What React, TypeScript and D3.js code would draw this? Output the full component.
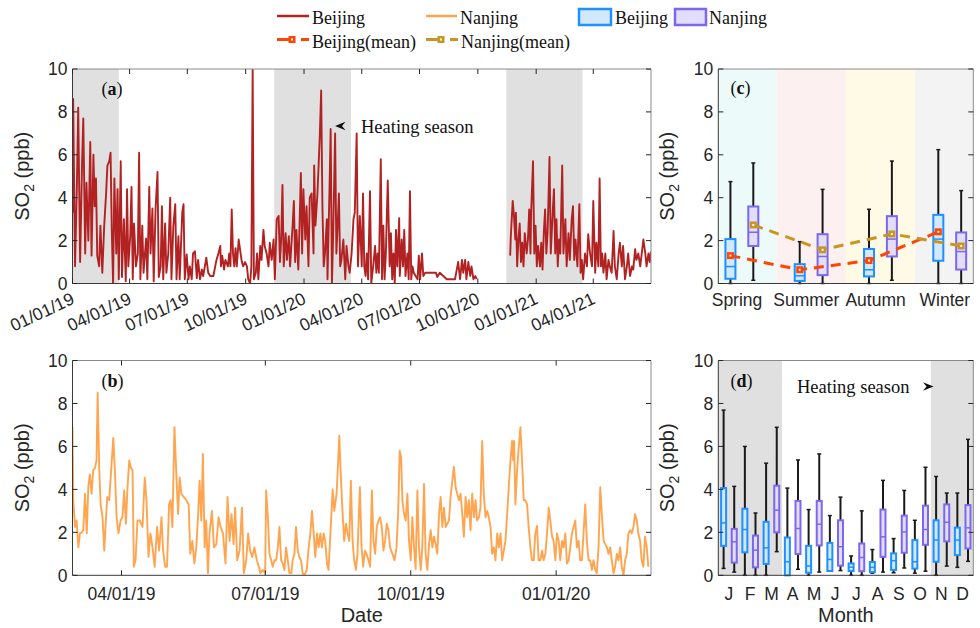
import React from 'react'
import * as d3 from 'd3'

/* figure size and panel frames (pixels) */
const width = 980
const height = 628
const panelA = { x0: 72.5, x1: 651, y0: 69, y1: 283.5 }
const panelB = { x0: 72.5, x1: 651, y0: 360.5, y1: 575.3 }
const panelC = { x0: 718.3, x1: 973.3, y0: 69, y1: 283.5 }
const panelD = { x0: 718.3, x1: 973.3, y0: 360.5, y1: 575.3 }

const sans = '"Liberation Sans", Arial, Helvetica, sans-serif'
const serif = '"Liberation Serif", "Times New Roman", serif'
const axisColor = '#262626'

const bjColor = '#b22222'
const njColor = '#ffa54f'
const bjBoxStroke = '#1e90ff'
const bjBoxFill = '#d2e8fc'
const njBoxStroke = '#7b68ee'
const njBoxFill = '#e2ddf9'
const bjMeanColor = '#ff4500'
const njMeanColor = '#c8961e'
const shade = '#e0e0e0'

/* ---------------- data ---------------- */
const yTicks = [0, 2, 4, 6, 8, 10]

/* heating seasons (Nov 15 - Mar 15) */
const heatingSeasons: [string, string][] = [
    ['2018-11-15', '2019-03-15'],
    ['2019-11-15', '2020-03-15'],
    ['2020-11-15', '2021-03-15'],
]

/* Beijing daily SO2, [days since 2019-01-01, ppb]; null = missing */
const beijingSO2: [number, number | null][] = [
    [0, 3.3], [1, 8.6], [4, 0.8], [7, 4.7], [9, 8.2], [12, 1.0], [15, 5.5], [17, 7.7], [20, 1.4], [22, 4.7],
    [25, 2.0], [28, 6.6], [30, 1.3], [33, 6.0], [35, 3.6], [37, 4.9], [39, 1.3], [42, 0.8], [44, 2.7], [47, 0.5],
    [50, 2.7], [53, 4.2], [55, 5.5], [58, 5.7], [60, 6.1], [62, 2.4], [64, 0.0], [66, 4.9], [69, 1.4], [71, 4.4],
    [73, 0.2], [76, 5.7], [78, 0.3], [81, 3.0], [84, 0.1], [86, 4.4], [88, 0.8], [91, 2.2], [93, 4.5], [95, 0.2],
    [97, 2.8], [100, 0.8], [103, 1.4], [105, 6.1], [107, 0.2], [110, 2.7], [112, 0.5], [116, 2.1], [118, 0.2], [121, 4.5],
    [123, 1.4], [126, 3.5], [128, 0.1], [131, 3.5], [134, 5.2], [136, 0.3], [139, 0.8], [141, 3.6], [143, 0.2], [146, 2.8],
    [148, 0.5], [151, 1.4], [154, 4.0], [156, 0.2], [159, 2.7], [162, 3.7], [164, 0.2], [167, 2.2], [169, 0.2], [173, 3.3],
    [175, 3.7], [177, 0.2], [180, 1.35], [183, 0.2], [185, 0.8], [188, 0.2], [190, 1.4], [193, 1.5], [196, 0.25], [198, 1.1],
    [201, 0.2], [204, 0.65], [206, 0.35], [211, 1.2], [214, 0.5], [217, 0.35], [222, 0.35], [225, 0.8], [227, 1.1], [230, 1.4],
    [233, 1.75], [234, 0.8], [236, 1.3], [239, 0.65], [241, 1.1], [245, 0.8], [247, 1.4], [249, 0.8], [251, 3.45], [253, 1.4],
    [255, 0.8], [257, 1.65], [259, 0.8], [262, 2.05], [265, 1.4], [267, 1.0], [269, 0.8], [272, 1.0], [275, 0.8], [277, 0.2],
    [280, 0.0], [282, 0.8], [284, 10], [286, 0.2], [289, 0.5], [291, 1.4], [293, 0.2], [296, 1.75], [298, 1.1], [301, 2.5],
    [303, 1.75], [306, 1.4], [309, 0.8], [311, 1.9], [314, 1.1], [317, 2.05], [319, 0.2], [322, 3.0], [325, 3.15], [327, 1.0],
    [329, 2.05], [331, 4.6], [333, 0.8], [336, 2.35], [338, 1.1], [341, 2.2], [343, 0.8], [347, 2.7], [349, 3.85], [351, 1.0],
    [353, 2.5], [356, 0.65], [358, 2.8], [360, 5.15], [362, 1.4], [364, 4.4], [367, 2.05], [369, 3.6], [372, 0.8], [374, 4.0],
    [377, 4.2], [380, 1.4], [381, 5.5], [383, 2.7], [386, 4.1], [388, 5.5], [390, 7.0], [392, 9.0], [394, 3.6], [396, 0.8],
    [398, 1.4], [401, 3.0], [402, 0.2], [405, 4.2], [407, 7.2], [409, 0.0], [411, 2.35], [414, 7.0], [416, 1.4], [418, 2.7],
    [420, 4.2], [422, 0.8], [424, 1.1], [427, 2.05], [430, 0.2], [432, 1.75], [435, 0.8], [437, 0.5], [440, 1.4], [443, 3.0],
    [445, 3.3], [448, 7.0], [450, 0.8], [453, 3.15], [456, 0.8], [458, 4.2], [460, 0.8], [462, 0.35], [464, 1.4], [466, 0.2],
    [469, 4.3], [471, 0.0], [474, 0.8], [477, 1.75], [479, 0.5], [481, 1.4], [483, 0.5], [486, 5.8], [488, 0.2], [490, 2.7],
    [492, 0.2], [494, 1.4], [497, 4.8], [500, 0.8], [502, 2.35], [504, 0.2], [506, 1.4], [508, 0.0], [510, 2.5], [512, 0.8],
    [515, 3.05], [516, 0.35], [519, 2.05], [521, 0.8], [523, 2.5], [525, 0.35], [528, 1.4], [530, 0.2], [532, 4.3], [534, 0.2],
    [536, 0.8], [538, 0.5], [541, 0.35], [544, 0.2], [546, 1.3], [548, 0.2], [551, 1.4], [553, 0.35], [556, 0.5], [573, 0.5],
    [575, 0.3], [579, 0.5], [590, 0.2], [603, 0.2], [608, 1.0], [611, 0.2], [614, 1.1], [616, 0.5], [619, 1.1], [621, 0.2],
    [624, 1.0], [627, 0.35], [629, 0.8], [632, 0.2], [635, 0.35], [637, 0.2], [660, null],
    [690, 1.3], [691, 2.2], [694, 3.85], [696, 3.15], [698, 2.05], [699, 3.3], [701, 0.8], [703, 2.05], [705, 2.8], [707, 1.0],
    [709, 1.9], [711, 0.8], [713, 2.35], [716, 1.4], [718, 2.05], [720, 3.45], [722, 1.4], [723, 3.3], [726, 5.7], [728, 1.4],
    [730, 2.7], [732, 0.8], [734, 1.75], [737, 0.8], [739, 1.9], [741, 0.65], [743, 2.35], [745, 3.45], [747, 1.4], [749, 2.35],
    [752, 5.9], [754, 1.4], [757, 3.3], [759, 4.4], [761, 1.4], [763, 3.0], [765, 0.8], [767, 2.05], [769, 1.4], [772, 5.5],
    [774, 1.4], [777, 3.0], [779, 0.8], [782, 2.35], [784, 1.1], [787, 3.0], [789, 3.6], [791, 1.1], [793, 2.05], [796, 0.8],
    [799, 3.7], [801, 0.5], [803, 1.1], [805, 0.2], [808, 1.4], [811, 0.8], [813, 2.3], [816, 1.4], [819, 0.8], [821, 3.85],
    [824, 0.5], [826, 1.9], [829, 0.8], [831, 4.9], [833, 0.8], [835, 1.4], [837, 0.5], [840, 1.4], [842, 0.2], [845, 1.1],
    [847, 0.8], [850, 0.5], [853, 2.45], [855, 0.8], [858, 0.2], [861, 1.4], [863, 1.9], [866, 0.8], [868, 1.75], [871, 0.2],
    [874, 0.8], [876, 1.4], [879, 0.35], [882, 0.8], [884, 0.65], [887, 1.6], [889, 1.1], [892, 1.4], [895, 0.8], [897, 1.3],
    [900, 2.05], [903, 1.4], [905, 0.8], [908, 1.4], [910, 1.0], [912, 1.5],
]

/* Nanjing daily SO2, [days since 2019-03-01, ppb] */
const nanjingSO2: [number, number][] = [
    [0, 6.9], [0.5, 3.5], [1.6, 2.25], [2.6, 2.55], [3.7, 1.3], [4.7, 1.95], [5.8, 2.0], [6.8, 2.1], [7.9, 3.8], [9, 1.95],
    [10, 4.1], [11, 4.7], [12.1, 3.8], [13.1, 4.9], [14.2, 5.0], [15.2, 5.35], [15.9, 8.5], [16.9, 5.0], [17.8, 3.3], [19, 2.7],
    [20.1, 1.15], [21.1, 2.55], [22, 3.65], [23.2, 3.5], [24.3, 4.7], [25.8, 6.4], [26.8, 4.9], [27.9, 2.7], [29.1, 1.95], [30.4, 2.55],
    [31.6, 2.7], [32.7, 3.95], [33.8, 2.4], [34.8, 4.1], [35.9, 5.35], [36.9, 5.0], [38, 4.9], [38.8, 0.4], [39.9, 0.7], [41.1, 2.55],
    [42.6, 2.55], [44.3, 2.25], [45.7, 4.55], [46.8, 3.5], [48.1, 0.85], [49.3, 1.95], [50.6, 1.3], [52, 0.4], [53.5, 2.25], [54.8, 1.15],
    [56.3, 2.7], [57.3, 1.15], [58.6, 0.4], [59.8, 0.4], [61.1, 3.3], [62.1, 3.5], [63.2, 2.25], [64.5, 6.9], [65.7, 4.7], [66.8, 2.85],
    [67.8, 4.55], [68.9, 3.8], [70.3, 3.65], [72, 3.5], [73.5, 3.3], [74.5, 1.0], [75.8, 1.6], [77.1, 0.55], [78.3, 1.3], [79.4, 2.7],
    [80.4, 4.4], [81.5, 2.55], [82.5, 5.65], [83.6, 1.3], [84.6, 2.55], [85.7, 0.1], [86.7, 1.95], [88.2, 3.0], [89.5, 1.3], [91, 1.45],
    [92.4, 2.7], [93.7, 2.25], [95.2, 1.95], [96.8, 0.55], [98.1, 3.65], [99.4, 1.6], [100.6, 2.85], [101.9, 1.45], [102.9, 3.15], [104.2, 0.7],
    [105.7, 1.15], [107.2, 3.15], [108.4, 0.1], [109.9, 0.7], [111.1, 1.95], [112.4, 1.15], [113.7, 0.85], [115.1, 1.3], [116.6, 0.7], [117.9, 0.4],
    [118.9, 0.1], [120.4, 0.25], [121.9, 0.1], [122.5, 3.95], [123.6, 2.7], [124.6, 1.0], [125.7, 0.7], [126.7, 0.4], [127.8, 0.7], [128.8, 0.7],
    [129.9, 1.3], [130.9, 2.25], [132, 0.7], [133, 0.55], [134.1, 0.25], [135.1, 1.3], [136.2, 0.7], [137.2, 0.1], [138.5, 0.1], [139.3, 0.7],
    [140.4, 1.0], [141.4, 2.25], [142.5, 1.15], [143.5, 0.85], [144.6, 0.7], [145.6, 0.1], [146.7, 0.0], [148.2, 0.25], [149.4, 1.3], [150.5, 1.95],
    [151.5, 3.0], [152.6, 1.95], [153.6, 0.85], [154.7, 1.95], [155.7, 1.3], [156.8, 1.95], [157.8, 1.3], [158.9, 1.95], [159.9, 1.6], [161, 0.55],
    [162, 0.25], [164.6, 4.0], [165.6, 3.0], [167.1, 3.8], [168.8, 6.5], [169.8, 4.55], [170.9, 2.85], [171.9, 1.6], [173, 2.4], [174, 1.95],
    [175.1, 1.6], [176.1, 4.4], [177.2, 1.6], [178.2, 0.7], [179.3, 0.25], [180.3, 1.0], [181.8, 4.1], [182.9, 1.3], [183.9, 0.4], [185, 1.15],
    [186, 1.0], [187.3, 0.7], [188.3, 0.4], [189.4, 3.95], [190.4, 1.6], [191.5, 1.0], [192.5, 2.25], [193.6, 2.55], [194.6, 2.7], [195.7, 2.25],
    [196.7, 1.15], [197.8, 1.6], [198.8, 2.4], [199.9, 2.1], [200.9, 1.3], [202.4, 1.0], [203.7, 0.7], [205, 1.3], [206, 2.85], [207, 5.8],
    [207.9, 5.5], [208.7, 3.5], [209.8, 2.85], [210.8, 2.55], [211.9, 3.8], [212.9, 1.6], [214, 0.7], [215, 2.7], [216.1, 1.3], [217.1, 0.3],
    [218.2, 3.95], [219.2, 1.3], [220.3, 0.25], [221.3, 1.3], [222.4, 4.25], [223.4, 1.0], [224.5, 0.25], [225.6, 1.45], [226.6, 2.1], [227.7, 1.3],
    [228.7, 1.8], [229.8, 1.45], [230.8, 1.0], [231.9, 2.85], [232.9, 3.65], [234, 2.25], [235, 3.15], [236.1, 2.25], [237.1, 2.4], [238.2, 2.55],
    [239.2, 3.65], [240.3, 4.4], [241.3, 5.05], [242.4, 4.1], [243.4, 3.8], [244.5, 3.5], [245.5, 3.8], [246.6, 2.85], [247.6, 1.8], [248.7, 3.65],
    [249.7, 2.7], [250.8, 3.5], [251.8, 2.1], [252.9, 3.8], [254, 2.7], [255, 3.5], [256, 2.55], [257.1, 2.7], [258.1, 3.15], [259.2, 6.25],
    [260.2, 3.8], [261.3, 2.7], [262.4, 3.0], [263.4, 2.7], [264.5, 2.25], [265.5, 1.0], [266.6, 1.3], [267.6, 0.7], [268.7, 1.95], [269.7, 1.3],
    [270.8, 1.95], [271.8, 0.7], [272.9, 1.15], [273.9, 1.6], [275, 2.85], [276, 4.1], [277.1, 5.35], [278.1, 6.25], [278.8, 5.35], [279.4, 6.25],
    [280.2, 3.3], [281.3, 4.9], [282.3, 5.95], [283.4, 6.9], [284.4, 5.35], [285.5, 3.5], [286.5, 3.5], [287.6, 3.3], [288.6, 2.25], [289.7, 1.3],
    [290.7, 0.7], [291.8, 0.7], [292.8, 1.95], [293.9, 2.3], [294.9, 0.7], [296, 0.7], [297.1, 1.15], [298.1, 0.7], [299.2, 1.0], [300.2, 1.95],
    [301.3, 3.15], [302.3, 2.55], [303.4, 1.8], [304.4, 1.6], [305.5, 0.7], [306.5, 1.95], [307.6, 1.6], [308.6, 0.7], [309.7, 1.6], [310.7, 1.3],
    [311.8, 1.95], [312.8, 0.55], [313.9, 0.7], [314.9, 1.3], [316, 1.95], [317, 2.25], [318.1, 2.55], [319.1, 1.3], [320.2, 1.6], [321.2, 0.7],
    [322.3, 0.7], [323.3, 1.95], [324.4, 3.3], [325.4, 1.6], [326.5, 0.7], [327.5, 0.7], [328.6, 0.25], [329.6, 0.7], [330.7, 0.25], [331.7, 0.1],
    [332.8, 1.3], [333.9, 4.1], [334.9, 2.85], [336, 1.6], [337, 1.45], [338.1, 1.3], [339.1, 1.0], [340.2, 1.3], [341.2, 0.7], [342.3, 0.1],
    [343.3, 0.4], [344.4, 1.0], [345.4, 0.7], [346.5, 1.3], [347.5, 0.4], [348.6, 0.0], [349.6, 0.7], [350.7, 1.0], [351.7, 1.95], [352.8, 2.1],
    [353.8, 1.95], [354.9, 2.25], [355.9, 2.85], [357, 2.55], [358, 1.95], [359.1, 1.6], [360.1, 0.7], [361.2, 0.4], [362.2, 1.8], [363.3, 1.3],
    [364.3, 0.4],
]

/* seasonal box statistics (panel c) */
const seasons = ['Spring', 'Summer', 'Autumn', 'Winter']
const seasonFill = ['#ecfafa', '#fdf0f0', '#fefae6', '#f3f3f3']
const bjSeasonLow = [0, 0, 0, 0]
const bjSeasonQ1 = [0.22, 0.12, 0.33, 1.06]
const bjSeasonMed = [0.79, 0.36, 0.64, 2.07]
const bjSeasonQ3 = [2.07, 0.9, 1.61, 3.2]
const bjSeasonHigh = [4.75, 1.95, 3.46, 6.24]
const bjSeasonMean = [1.3, 0.64, 1.07, 2.41]
const njSeasonLow = [0.15, 0, 0.15, 0]
const njSeasonQ1 = [1.75, 0.39, 1.26, 0.65]
const njSeasonMed = [2.39, 1.26, 2.07, 1.49]
const njSeasonQ3 = [3.59, 2.3, 3.14, 2.38]
const njSeasonHigh = [5.62, 4.39, 5.71, 4.33]
const njSeasonMean = [2.73, 1.57, 2.31, 1.75]

/* monthly box statistics (panel d) */
const months = ['J', 'F', 'M', 'A', 'M', 'J', 'J', 'A', 'S', 'O', 'N', 'D']
const bjMonthLow = [0.32, 0, 0, 0, 0, 0.22, 0, 0.1, 0.12, 0.1, 0, 0.37]
const bjMonthQ1 = [1.37, 1.07, 0.53, 0, 0.12, 0.2, 0.2, 0.15, 0.25, 0.31, 0.63, 0.94]
const bjMonthMed = [2.44, 2.13, 1.28, 0.63, 0.43, 0.74, 0.38, 0.37, 0.68, 0.63, 1.64, 1.64]
const bjMonthQ3 = [4.06, 3.1, 2.49, 1.76, 1.37, 1.51, 0.55, 0.62, 1.02, 1.64, 2.56, 2.22]
const bjMonthHigh = [7.69, 6.0, 5.22, 4.06, 3.06, 2.78, 0.9, 1.2, 1.71, 2.56, 4.6, 3.83]
const njMonthLow = [0.15, 0, 1.1, 0.28, 0.15, 0.22, 0, 0.15, 0.34, 0.19, 0.43, 0.65]
const njMonthQ1 = [0.59, 0.37, 2.0, 0.99, 1.39, 0.45, 0.19, 0.86, 1.05, 1.42, 1.58, 1.25]
const njMonthMed = [1.56, 1.17, 3.03, 2.18, 2.38, 1.33, 0.83, 1.79, 2.02, 2.13, 2.47, 2.21]
const njMonthQ3 = [2.16, 1.85, 4.17, 3.46, 3.46, 2.56, 1.48, 3.06, 2.78, 3.24, 3.3, 3.27]
const njMonthHigh = [4.14, 2.9, 6.89, 5.37, 5.65, 3.64, 3.0, 4.42, 3.95, 5.03, 3.83, 6.33]
const monthShade: [number, number][] = [[0.5, 3.5], [10.5, 12.5]]

/* ---------------- helpers ---------------- */
const parseDay = d3.utcParse('%Y-%m-%d')
const fmtDate = d3.utcFormat('%m/%d/%y')
const DAY = 864e5
const bjStart = Date.UTC(2019, 0, 1)
const njStart = Date.UTC(2019, 2, 1)

type Box = { x0: number; x1: number; y0: number; y1: number }

/* MATLAB style box with inward ticks */
function Frame({ box, y, xTicks = [] }: { box: Box; y: d3.ScaleLinear<number, number>; xTicks?: number[] }) {
    return (
        <g>
            <line x1={box.x0} x2={box.x1} y1={box.y0} y2={box.y0} stroke="#8a8a8a" />
            <line x1={box.x1} x2={box.x1} y1={box.y0} y2={box.y1} stroke="#8a8a8a" />
            <line x1={box.x0} x2={box.x0} y1={box.y0} y2={box.y1} stroke="#3a3a3a" />
            <line x1={box.x0} x2={box.x1} y1={box.y1} y2={box.y1} stroke="#3a3a3a" />
            {yTicks.map((t) => (
                <g key={t}>
                    <line x1={box.x0} x2={box.x0 + 5} y1={y(t)} y2={y(t)} stroke={axisColor} />
                    <line x1={box.x1} x2={box.x1 - 5} y1={y(t)} y2={y(t)} stroke={axisColor} />
                    <text x={box.x0 - 5} y={y(t)} dy="0.36em" textAnchor="end" fontSize={17.5} fill={axisColor} fontFamily={sans}>
                        {t}
                    </text>
                </g>
            ))}
            {xTicks.map((x, i) => (
                <g key={i}>
                    <line x1={x} x2={x} y1={box.y1} y2={box.y1 - 5} stroke={axisColor} />
                    <line x1={x} x2={x} y1={box.y0} y2={box.y0 + 5} stroke={axisColor} />
                </g>
            ))}
        </g>
    )
}

function YLabel({ x, y }: { x: number; y: number }) {
    return (
        <text transform={`translate(${x},${y}) rotate(-90)`} textAnchor="middle" fontSize={20} fill={axisColor} fontFamily={sans}>
            SO<tspan dy={5} fontSize={14}>2</tspan>
            <tspan dy={-5}> (ppb)</tspan>
        </text>
    )
}

function PanelTag({ x, y, letter }: { x: number; y: number; letter: string }) {
    return (
        <text x={x} y={y} fontSize={18} fontFamily={serif} fill="#111">
            (<tspan fontWeight="bold">{letter}</tspan>)
        </text>
    )
}

/* one box-and-whisker glyph */
function BoxGlyph(props: {
    cx: number; w: number; lo: number; q1: number; med: number; q3: number; hi: number
    stroke: string; fill: string
}) {
    const { cx, w, lo, q1, med, q3, hi, stroke, fill } = props
    return (
        <g>
            <line x1={cx} x2={cx} y1={lo} y2={hi} stroke="#1a1a1a" strokeWidth={2} />
            <line x1={cx - 2} x2={cx + 2} y1={hi} y2={hi} stroke="#1a1a1a" strokeWidth={1.5} />
            <line x1={cx - 2} x2={cx + 2} y1={lo} y2={lo} stroke="#1a1a1a" strokeWidth={1.5} />
            <rect x={cx - w / 2} y={q3} width={w} height={Math.max(q1 - q3, 1)} fill={fill} stroke={stroke} strokeWidth={2} />
            <line x1={cx - w / 2} x2={cx + w / 2} y1={med} y2={med} stroke={stroke} strokeWidth={1.5} />
        </g>
    )
}

export default function App() {
    /* ---- panel a ---- */
    const xA = d3.scaleUtc().domain([new Date(bjStart), new Date(Date.UTC(2021, 6, 1))]).range([panelA.x0, panelA.x1])
    const yA = d3.scaleLinear().domain([0, 10]).range([panelA.y1, panelA.y0])
    const ticksA = d3.utcMonth.every(3)!.range(new Date(bjStart), new Date(Date.UTC(2021, 6, 1)))
    const lineA = d3
        .line<[number, number | null]>()
        .defined((d) => d[1] !== null)
        .x((d) => xA(new Date(bjStart + d[0] * DAY)))
        .y((d) => yA(d[1] as number))
    const shadeA = heatingSeasons.map(([s, e]) => {
        const a = Math.max(xA(parseDay(s)!), panelA.x0)
        const b = Math.min(xA(parseDay(e)!), panelA.x1)
        return { x: a, w: Math.max(b - a, 0) }
    })

    /* ---- panel b ---- */
    const xB = d3.scaleUtc().domain([new Date(njStart), new Date(Date.UTC(2020, 2, 1))]).range([panelB.x0, panelB.x1])
    const yB = d3.scaleLinear().domain([0, 10]).range([panelB.y1, panelB.y0])
    const ticksB = d3.utcMonth.every(3)!.range(new Date(njStart), new Date(Date.UTC(2020, 2, 1)))
    const lineB = d3
        .line<[number, number]>()
        .x((d) => xB(new Date(njStart + d[0] * DAY)))
        .y((d) => yB(d[1]))

    /* ---- panel c ---- */
    const xC = d3.scaleLinear().domain([0.66, 4.34]).range([panelC.x0, panelC.x1])
    const yC = d3.scaleLinear().domain([0, 10]).range([panelC.y1, panelC.y0])
    const offC = 0.165
    const meanLine = d3.line<[number, number]>().x((d) => xC(d[0])).y((d) => yC(d[1]))
    const bjMeanPts = bjSeasonMean.map((v, i) => [i + 1 - offC, v] as [number, number])
    const njMeanPts = njSeasonMean.map((v, i) => [i + 1 + offC, v] as [number, number])

    /* ---- panel d ---- */
    const xD = d3.scaleLinear().domain([0.5, 12.5]).range([panelD.x0, panelD.x1])
    const yD = d3.scaleLinear().domain([0, 10]).range([panelD.y1, panelD.y0])
    const offD = 0.25

    return (
        <svg width={width} height={height} style={{ position: 'absolute', left: 0, top: 0, background: '#fff' }}>
            <defs>
                <clipPath id="clipA">
                    <rect x={panelA.x0} y={panelA.y0} width={panelA.x1 - panelA.x0} height={panelA.y1 - panelA.y0} />
                </clipPath>
                <clipPath id="clipB">
                    <rect x={panelB.x0} y={panelB.y0} width={panelB.x1 - panelB.x0} height={panelB.y1 - panelB.y0} />
                </clipPath>
            </defs>

            {/* legend */}
            <g fontFamily={serif} fontSize={18} fill="#111">
                <line x1={277} x2={309} y1={16} y2={16} stroke={bjColor} strokeWidth={2.5} />
                <text x={312} y={24}>Beijing</text>
                <line x1={426} x2={457} y1={16} y2={16} stroke={njColor} strokeWidth={2.5} />
                <text x={460} y={24}>Nanjing</text>
                <rect x={579} y={9} width={32} height={16} fill={bjBoxFill} stroke={bjBoxStroke} strokeWidth={2.5} />
                <text x={615} y={24}>Beijing</text>
                <rect x={675} y={9} width={31} height={16} fill={njBoxFill} stroke={njBoxStroke} strokeWidth={2.5} />
                <text x={709} y={24}>Nanjing</text>
                {[
                    { x: 277, c: bjMeanColor, t: 'Beijing(mean)' },
                    { x: 426, c: njMeanColor, t: 'Nanjing(mean)' },
                ].map((l) => (
                    <g key={l.t}>
                        <line x1={l.x} x2={l.x + 32} y1={39.5} y2={39.5} stroke={l.c} strokeWidth={3} strokeDasharray="13,11,8" />
                        <rect x={l.x + 11.5} y={36} width={7} height={7} fill={l.c} />
                        <rect x={l.x + 14} y={38.5} width={2} height={2} fill="#fff" />
                        <text x={l.x + 35} y={47.5}>{l.t}</text>
                    </g>
                ))}
            </g>

            {/* ---------- panel a ---------- */}
            {shadeA.map((s, i) => (
                <rect key={i} x={s.x} y={panelA.y0} width={s.w} height={panelA.y1 - panelA.y0} fill={shade} />
            ))}
            <path d={lineA(beijingSO2) || ''} fill="none" stroke={bjColor} strokeWidth={1.9} strokeLinejoin="round" clipPath="url(#clipA)" />
            <Frame box={panelA} y={yA} xTicks={ticksA.map((d) => xA(d))} />
            {ticksA.map((d, i) => (
                <text
                    key={i}
                    transform={`translate(${xA(d) + 3},${303}) rotate(-25)`}
                    textAnchor="end"
                    fontSize={17.5}
                    fill={axisColor}
                    fontFamily={sans}
                >
                    {fmtDate(d)}
                </text>
            ))}
            <YLabel x={29} y={(panelA.y0 + panelA.y1) / 2} />
            <PanelTag x={101.5} y={95} letter="a" />
            <path d="M335,126 L345.5,121.8 L342,126 L345.5,130.2 Z" fill="#111" />
            <text x={361} y={132.5} fontSize={18.5} fontFamily={serif} fill="#111">Heating season</text>

            {/* ---------- panel b ---------- */}
            <path d={lineB(nanjingSO2) || ''} fill="none" stroke={njColor} strokeWidth={1.9} strokeLinejoin="round" clipPath="url(#clipB)" />
            <Frame box={panelB} y={yB} xTicks={ticksB.map((d) => xB(d))} />
            {ticksB.map((d, i) => (
                <text key={i} x={xB(d)} y={599.5} textAnchor="middle" fontSize={17.5} fill={axisColor} fontFamily={sans}>
                    {fmtDate(d)}
                </text>
            ))}
            <text x={(panelB.x0 + panelB.x1) / 2} y={622} textAnchor="middle" fontSize={20} fill={axisColor} fontFamily={sans}>
                Date
            </text>
            <YLabel x={29} y={(panelB.y0 + panelB.y1) / 2} />
            <PanelTag x={101.5} y={387} letter="b" />

            {/* ---------- panel c ---------- */}
            {seasons.map((s, i) => {
                const a = Math.max(xC(i + 0.5), panelC.x0)
                const b = Math.min(xC(i + 1.5), panelC.x1)
                return <rect key={s} x={a} y={panelC.y0} width={b - a} height={panelC.y1 - panelC.y0} fill={seasonFill[i]} />
            })}
            {seasons.map((s, i) => (
                <g key={s}>
                    <BoxGlyph
                        cx={xC(i + 1 - offC)} w={10}
                        lo={yC(bjSeasonLow[i])} q1={yC(bjSeasonQ1[i])} med={yC(bjSeasonMed[i])} q3={yC(bjSeasonQ3[i])} hi={yC(bjSeasonHigh[i])}
                        stroke={bjBoxStroke} fill={bjBoxFill}
                    />
                    <BoxGlyph
                        cx={xC(i + 1 + offC)} w={10}
                        lo={yC(njSeasonLow[i])} q1={yC(njSeasonQ1[i])} med={yC(njSeasonMed[i])} q3={yC(njSeasonQ3[i])} hi={yC(njSeasonHigh[i])}
                        stroke={njBoxStroke} fill={njBoxFill}
                    />
                </g>
            ))}
            {[
                { pts: bjMeanPts, c: bjMeanColor },
                { pts: njMeanPts, c: njMeanColor },
            ].map((m, k) => (
                <g key={k}>
                    <path d={meanLine(m.pts) || ''} fill="none" stroke={m.c} strokeWidth={3} strokeDasharray="10,7" />
                    {m.pts.map((p, i) => (
                        <g key={i}>
                            <rect x={xC(p[0]) - 3.5} y={yC(p[1]) - 3.5} width={7} height={7} fill={m.c} />
                            <rect x={xC(p[0]) - 1} y={yC(p[1]) - 1} width={2} height={2} fill="#fff" />
                        </g>
                    ))}
                </g>
            ))}
            <Frame box={panelC} y={yC} />
            {seasons.map((s, i) => (
                <text key={s} x={xC(i + 1 - 0.07)} y={306} textAnchor="middle" fontSize={17.5} fill={axisColor} fontFamily={sans}>
                    {s}
                </text>
            ))}
            <YLabel x={674} y={(panelC.y0 + panelC.y1) / 2} />
            <PanelTag x={730.5} y={94} letter="c" />

            {/* ---------- panel d ---------- */}
            {monthShade.map(([a, b], i) => (
                <rect key={i} x={xD(a)} y={panelD.y0} width={xD(b) - xD(a)} height={panelD.y1 - panelD.y0} fill={shade} />
            ))}
            {months.map((m, i) => (
                <g key={i}>
                    <BoxGlyph
                        cx={xD(i + 1 - offD)} w={5}
                        lo={yD(bjMonthLow[i])} q1={yD(bjMonthQ1[i])} med={yD(bjMonthMed[i])} q3={yD(bjMonthQ3[i])} hi={yD(bjMonthHigh[i])}
                        stroke={bjBoxStroke} fill={bjBoxFill}
                    />
                    <BoxGlyph
                        cx={xD(i + 1 + offD)} w={5}
                        lo={yD(njMonthLow[i])} q1={yD(njMonthQ1[i])} med={yD(njMonthMed[i])} q3={yD(njMonthQ3[i])} hi={yD(njMonthHigh[i])}
                        stroke={njBoxStroke} fill={njBoxFill}
                    />
                </g>
            ))}
            <Frame box={panelD} y={yD} />
            {months.map((m, i) => (
                <text key={i} x={xD(i + 1)} y={599.5} textAnchor="middle" fontSize={17.5} fill={axisColor} fontFamily={sans}>
                    {m}
                </text>
            ))}
            <text x={(panelD.x0 + panelD.x1) / 2} y={622} textAnchor="middle" fontSize={20} fill={axisColor} fontFamily={sans}>
                Month
            </text>
            <YLabel x={674} y={(panelD.y0 + panelD.y1) / 2} />
            <PanelTag x={730.5} y={387} letter="d" />
            <text x={797} y={393} fontSize={18.5} fontFamily={serif} fill="#111">Heating season</text>
            <path d="M933.5,386.5 L923,382.3 L926.5,386.5 L923,390.7 Z" fill="#111" />
        </svg>
    )
}
